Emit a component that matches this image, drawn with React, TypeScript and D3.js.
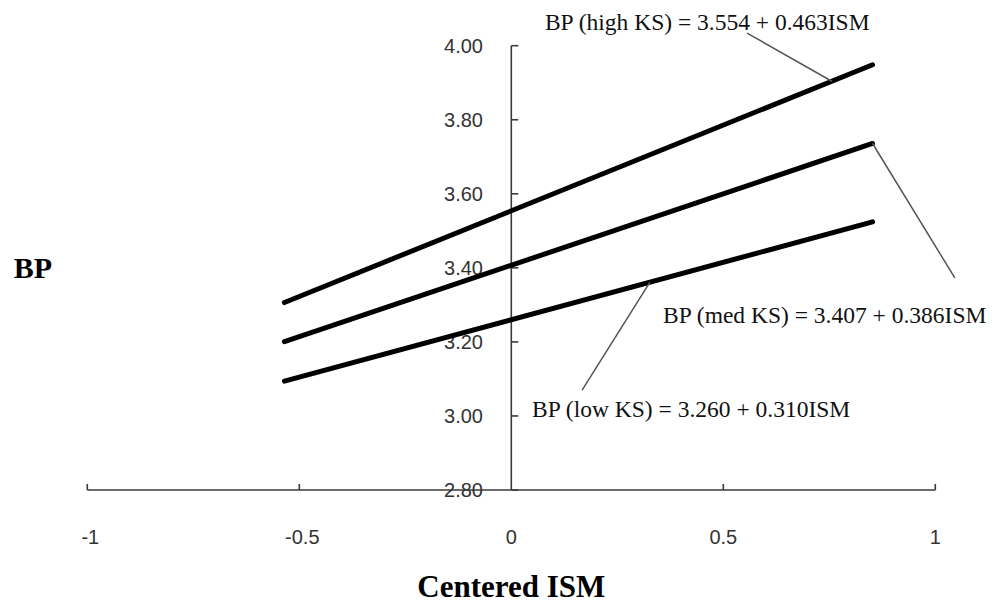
import React, { useEffect, useRef } from "react";
import * as d3 from "d3";

const seriesNames = ["high KS", "med KS", "low KS"];
const intercepts = [3.554, 3.407, 3.26];
const slopes = [0.463, 0.386, 0.31];
const ismRange = [-0.535, 0.852];

const xTicks = [-1, -0.5, 0, 0.5, 1];
const yTicks = [2.8, 3.0, 3.2, 3.4, 3.6, 3.8, 4.0];

// where each equation label sits and where its leader touches, in data units
const labelAt = [
  { x: 0.845, y: 4.042, anchor: "end", from: [0.556, 4.034], to: 0.756 },
  { x: 0.358, y: 3.251, anchor: "start", from: [1.046, 3.373], to: 0.852 },
  { x: 0.049, y: 2.997, anchor: "start", from: [0.167, 3.07], to: 0.327 },
];

export default function App() {
  const ref = useRef<SVGSVGElement>(null);

  useEffect(() => {
    const svg = d3.select(ref.current);
    svg.selectAll("*").remove();

    const x = d3.scaleLinear().domain([-1, 1]).range([87.3, 935.3]);
    const y = d3.scaleLinear().domain([2.8, 4.0]).range([490, 45.7]);
    const axisColor = "#3a3a3a";

    // x axis
    svg.append("line")
      .attr("x1", x(-1)).attr("x2", x(1))
      .attr("y1", y(2.8)).attr("y2", y(2.8))
      .attr("stroke", axisColor).attr("stroke-width", 1.6);
    svg.selectAll("line.xt")
      .data(xTicks.filter((t) => t !== 0))
      .enter().append("line")
      .attr("x1", (d) => x(d)).attr("x2", (d) => x(d))
      .attr("y1", y(2.8)).attr("y2", y(2.8) - 6)
      .attr("stroke", axisColor).attr("stroke-width", 1.6);
    svg.selectAll("text.xl")
      .data(xTicks)
      .enter().append("text")
      .attr("x", (d) => x(d) + (d < 0 ? 3 : 0))
      .attr("y", y(2.8) + 54)
      .attr("text-anchor", "middle")
      .attr("font-family", "Liberation Sans, Arial, sans-serif")
      .attr("font-size", 20)
      .attr("fill", "#333")
      .text((d) => String(d));

    // y axis
    svg.append("line")
      .attr("x1", x(0)).attr("x2", x(0))
      .attr("y1", y(2.8)).attr("y2", y(4.0))
      .attr("stroke", axisColor).attr("stroke-width", 1.6);
    svg.selectAll("line.yt")
      .data(yTicks)
      .enter().append("line")
      .attr("x1", x(0)).attr("x2", x(0) + 7)
      .attr("y1", (d) => y(d)).attr("y2", (d) => y(d))
      .attr("stroke", axisColor).attr("stroke-width", 1.6);
    svg.selectAll("text.yl")
      .data(yTicks)
      .enter().append("text")
      .attr("x", 483)
      .attr("y", (d) => y(d))
      .attr("dy", "0.36em")
      .attr("text-anchor", "end")
      .attr("font-family", "Liberation Sans, Arial, sans-serif")
      .attr("font-size", 20)
      .attr("fill", "#333")
      .text((d) => d.toFixed(2));

    // regression lines
    seriesNames.forEach((name, i) => {
      const f = (v: number) => intercepts[i] + slopes[i] * v;
      svg.append("path")
        .datum(ismRange)
        .attr("d", d3.line<number>().x((d) => x(d)).y((d) => y(f(d))))
        .attr("fill", "none")
        .attr("stroke", "#000")
        .attr("stroke-width", 5)
        .attr("stroke-linecap", "round");
    });

    // leaders + equations
    labelAt.forEach((a, i) => {
      const f = (v: number) => intercepts[i] + slopes[i] * v;
      svg.append("line")
        .attr("x1", x(a.from[0])).attr("y1", y(a.from[1]))
        .attr("x2", x(a.to)).attr("y2", y(f(a.to)))
        .attr("stroke", "#555").attr("stroke-width", 1.5);
      svg.append("text")
        .attr("x", x(a.x)).attr("y", y(a.y))
        .attr("text-anchor", a.anchor)
        .attr("font-family", "Liberation Serif, Times New Roman, serif")
        .attr("font-size", 23.5)
        .attr("fill", "#111")
        .text(`BP (${seriesNames[i]}) = ${intercepts[i].toFixed(3)} + ${slopes[i].toFixed(3)}ISM`);
    });

    // axis titles
    svg.append("text")
      .attr("x", 33).attr("y", 278)
      .attr("text-anchor", "middle")
      .attr("font-family", "Liberation Serif, Times New Roman, serif")
      .attr("font-weight", "bold")
      .attr("font-size", 30)
      .text("BP");
    svg.append("text")
      .attr("x", x(0)).attr("y", 597)
      .attr("text-anchor", "middle")
      .attr("font-family", "Liberation Serif, Times New Roman, serif")
      .attr("font-weight", "bold")
      .attr("font-size", 31)
      .text("Centered ISM");
  }, []);

  return (
    <svg
      ref={ref}
      width={992}
      height={606}
      style={{ position: "absolute", left: 0, top: 0, background: "#fff" }}
    />
  );
}
